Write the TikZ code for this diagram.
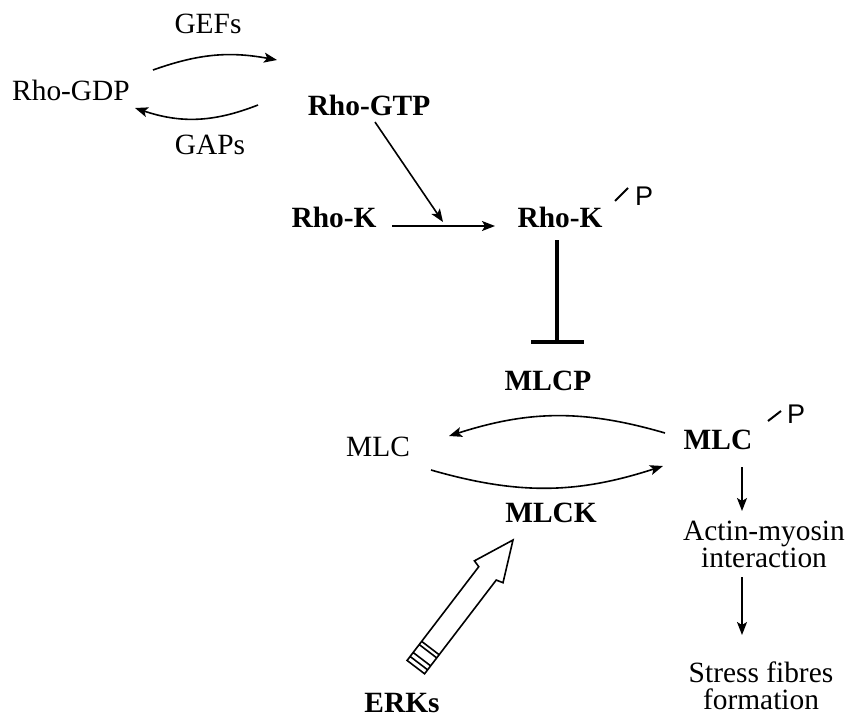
\documentclass[tikz,border=0pt]{standalone}
\usepackage{fontspec}
\setmainfont{Liberation Serif}
\newfontfamily\phosfont{Liberation Sans}
\usepackage{tikz}
\usetikzlibrary{arrows.meta, calc}
\tikzstyle{txt} = [inner sep=0pt, font=\fontsize{14.7}{13.5}\selectfont]
\tikzstyle{boldtxt} = [inner sep=0pt, font=\fontsize{14.7}{13.5}\selectfont\bfseries]
\tikzstyle{phos} = [inner sep=0pt, font=\phosfont\fontsize{13.5}{14}\selectfont]
\tikzstyle{arrow} = [line width=0.8pt, -{Stealth[length=6.5pt, width=5pt, inset=1.5pt]}]
\tikzstyle{inhibit} = [line width=2pt, -{Bar[width=26.5pt]}]
\tikzstyle{pmark} = [line width=1pt]
\tikzstyle{hollow} = [line width=0.8pt, line join=miter]

\begin{document}
\begin{tikzpicture}[x=0.5pt, y=-0.5pt]
\useasboundingbox (0,0) rectangle (850,724);

\node (rhogdp) [txt] at (71,90) {Rho-GDP};
\node (rhogtp) [boldtxt] at (369,105) {Rho-GTP};
\node (gefs) [txt] at (208,24) {GEFs};
\node (gaps) [txt] at (210,145) {GAPs};
\node (rhok) [boldtxt] at (334,217) {Rho-K};
\node (rhokp) [boldtxt] at (560,217) {Rho-K};
\node (rhokpP) [phos] at ($(rhokp)+(84,-21)$) {P};
\node (mlcp) [boldtxt] at (548,381) {MLCP};
\node (mlc) [txt] at (378,447) {MLC};
\node (mlcph) [boldtxt] at (718,440) {MLC};
\node (mlcphP) [phos] at ($(mlcph)+(78,-26)$) {P};
\node (mlck) [boldtxt] at (551,513) {MLCK};
\node (actin) [txt, align=center, anchor=north] at (764,521) {Actin-myosin\\interaction};
\node (stress) [txt, align=center, anchor=north] at (761,661) {Stress fibres\\formation};
\node (erks) [boldtxt] at (402,703) {ERKs};

% phosphate marks
\draw [pmark] ($(rhokp)+(55,-16)$) -- ($(rhokp)+(68,-29)$);
\draw [pmark] ($(mlcph)+(50,-19)$) -- ($(mlcph)+(63,-29)$);

\draw [arrow] ($(rhogdp)+(82,-20)$) to[bend left=15] ($(rhogtp)+(-92,-45)$);
\draw [arrow] ($(rhogtp)+(-111,0)$) to[bend left=20] ($(rhogdp)+(64,18)$);
\draw [arrow] ($(rhok)+(58,9)$) -- ($(rhokp)+(-65,9)$);
\draw [arrow] ($(rhogtp)+(6,17)$) -- ($(rhok)!0.5!(rhokp)+(-4,5)$);
\draw [inhibit] ($(rhokp)+(-3,23)$) -- ($(mlcp)+(9,-37)$);
\draw [arrow] ($(mlcph)+(-53,-7)$) to[bend right=17] ($(mlc)+(71,-11)$);
\draw [arrow] ($(mlc)+(53,23)$) to[bend right=17] ($(mlcph)+(-55,26)$);
\draw [arrow] ($(mlcph)+(24,27)$) -- ($(actin.north)+(-22,-10)$);
\draw [arrow] ($(actin.north)+(-22,56)$) -- ($(stress.north)+(-19,-26)$);

% ERKs -> MLCK
\coordinate (erktip) at ($(mlck)+(-38,27)$);
\draw [hollow, shift={(erktip)}, rotate=52.6] (0,0) -- (-40,18) -- (-42,11) -- (-160,11) -- (-160,-11) -- (-42,-11) -- (-40,-18) -- cycle
  (-136,-11) -- (-136,11) (-140,-11) -- (-140,11) (-150,-11) -- (-150,11) (-155,-11) -- (-155,11);

\end{tikzpicture}
\end{document}
